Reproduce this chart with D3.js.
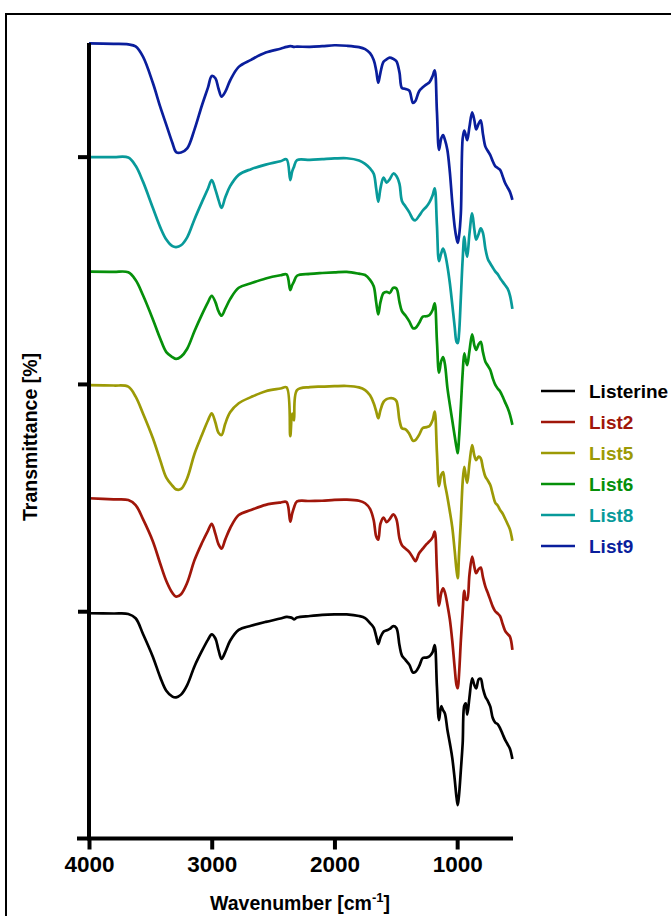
<!DOCTYPE html>
<html>
<head>
<meta charset="utf-8">
<script src="https://cdn.jsdelivr.net/npm/d3@7"></script>
<style>
  html, body { margin: 0; padding: 0; background: #fff; }
  svg { display: block; }
  text { font-family: "Liberation Sans", Arial, Helvetica, sans-serif; font-weight: bold; }
</style>
</head>
<body>
<svg id="chart" width="671" height="916"></svg>
<script>
// FTIR spectra (transmittance, %) on a shared wavenumber grid (cm-1)
const wavenumber = [
  4000, 3800, 3680, 3620, 3560, 3480, 3420, 3370, 3320, 3290,
  3250, 3200, 3140, 3080, 3030, 3000, 2970, 2945, 2920, 2890,
  2850, 2780, 2680, 2560, 2440, 2390, 2360, 2345, 2330, 2305,
  2200, 2100, 2000, 1900, 1800, 1750, 1710, 1680, 1660, 1643,
  1625, 1600, 1575, 1550, 1520, 1495, 1470, 1450, 1420, 1390,
  1360, 1340, 1310, 1280, 1250, 1225, 1200, 1183, 1165, 1148,
  1130, 1115, 1100, 1080, 1060, 1040, 1020, 1005, 995, 985,
  970, 955, 942, 930, 918, 900, 878, 860, 845, 825,
  808, 790, 770, 750, 730, 710, 690, 670, 650, 630,
  610, 590, 570, 550
];

const listerine = [
  99.1, 99.0, 98.8, 96.9, 90.0, 80.0, 71.0, 65.0, 62.4, 62.1,
  63.3, 67.5, 75.8, 82.5, 87.5, 89.8, 88.0, 83.0, 79.0, 82.0,
  87.0, 91.8, 93.6, 95.3, 96.8, 97.5, 97.3, 97.0, 96.4, 97.2,
  97.9, 98.4, 98.6, 98.6, 97.9, 97.0, 94.8, 92.8, 89.0, 85.6,
  88.5, 91.0, 91.6, 92.2, 93.4, 92.6, 85.0, 80.5, 78.5, 76.5,
  73.0, 73.3, 75.8, 79.4, 79.6, 80.2, 82.0, 85.1, 67.0, 52.1,
  58.2, 56.5, 55.0, 48.0, 42.0, 35.5, 26.0, 18.0, 14.7, 19.0,
  30.0, 42.0, 58.5, 59.5, 54.5, 62.0, 70.5, 67.5, 66.0, 70.0,
  70.3, 66.0, 62.4, 60.5, 58.0, 53.0, 51.0, 50.3, 48.5, 46.0,
  43.5, 41.5, 39.5, 35.0
];

const list2 = [
  99.7, 99.2, 98.9, 96.7, 90.5, 80.8, 71.0, 63.3, 58.0, 56.4,
  57.5, 62.5, 72.5, 80.0, 85.5, 88.4, 84.0, 79.5, 77.5, 81.5,
  86.5, 92.3, 94.5, 96.8, 97.8, 98.0, 89.4, 92.8, 95.5, 98.3,
  98.5, 98.6, 99.0, 99.1, 98.6, 97.5, 95.0, 90.0, 83.0, 81.5,
  88.5, 91.2, 89.2, 90.5, 92.6, 90.5, 82.0, 79.0, 77.5, 76.0,
  73.5, 72.0, 75.5, 77.5, 79.5, 80.8, 82.5, 85.0, 68.0, 52.5,
  58.0, 60.1, 58.3, 53.0, 46.5, 37.0, 25.0, 17.5, 16.1, 22.0,
  37.0, 50.0, 59.0, 55.5, 55.0, 66.0, 74.0, 69.5, 66.7, 68.5,
  69.2, 65.0, 60.8, 58.0, 55.0, 52.0, 50.0, 49.0, 47.8, 44.5,
  41.5, 40.0, 38.8, 33.0
];

const list5 = [
  99.5, 99.3, 98.8, 94.4, 87.0, 76.2, 66.5, 58.8, 55.2, 53.6,
  53.8, 58.5, 69.3, 77.5, 84.0, 87.1, 83.0, 78.5, 77.5, 82.5,
  87.5, 91.5, 94.2, 96.8, 98.0, 98.5, 77.0, 87.0, 84.0, 97.3,
  98.6, 98.8, 99.0, 99.1, 98.5, 97.3, 95.0, 91.5, 88.0, 84.9,
  88.5, 92.1, 93.3, 93.7, 93.6, 92.5, 84.0, 80.5, 80.0, 78.0,
  75.0, 75.3, 77.6, 80.6, 81.0, 81.5, 84.0, 87.8, 70.0, 55.0,
  60.0, 61.2, 56.0, 50.4, 44.0, 37.0, 26.5, 18.0, 14.5, 25.0,
  40.0, 57.0, 63.5, 59.5, 56.5, 65.0, 73.1, 68.5, 66.5, 68.0,
  67.3, 63.0, 59.2, 57.5, 55.5, 51.5, 47.8, 46.5, 44.5, 43.0,
  40.8, 38.5, 36.0, 31.0
];

const list6 = [
  99.4, 99.3, 99.1, 95.7, 89.0, 78.5, 70.0, 64.0, 61.8, 61.0,
  62.0, 65.5, 73.3, 80.5, 86.0, 88.8, 86.0, 82.0, 80.0, 83.0,
  87.3, 92.3, 94.3, 96.4, 97.8, 98.2, 91.3, 93.4, 95.0, 97.6,
  98.4, 98.8, 99.1, 99.3, 98.5, 97.9, 95.8, 93.0, 86.0, 80.6,
  86.0, 90.0, 90.5, 90.0, 92.3, 92.0, 86.0, 82.0, 80.0, 77.5,
  74.5, 74.6, 76.8, 79.6, 79.8, 80.3, 82.5, 85.5, 69.0, 55.0,
  60.0, 61.8, 58.8, 48.5, 41.0, 34.0, 27.0, 22.0, 19.5, 26.0,
  40.0, 55.0, 63.5, 60.5, 58.3, 64.5, 71.8, 67.0, 65.0, 67.5,
  68.5, 64.0, 59.8, 58.0, 56.1, 52.5, 49.7, 48.0, 46.7, 44.5,
  42.0, 39.6, 36.5, 32.0
];

const list8 = [
  99.8, 99.8, 99.6, 96.0, 89.0, 77.5, 69.0, 63.5, 60.6, 60.2,
  61.0, 64.5, 72.5, 80.0, 86.0, 89.7, 85.5, 81.0, 77.4, 82.0,
  87.0, 92.0, 94.5, 96.5, 98.0, 98.8, 89.7, 93.4, 95.5, 98.5,
  98.6, 98.9, 99.2, 99.3, 98.3, 96.8, 94.8, 92.5, 86.0, 80.2,
  86.0, 90.8, 88.6, 90.0, 92.6, 91.5, 88.0, 80.5, 78.0, 75.5,
  72.5, 72.0, 74.0, 76.3, 78.0, 80.0, 83.0, 86.1, 70.0, 54.0,
  57.5, 59.5, 57.5, 52.0, 44.5, 35.0, 25.0, 18.5, 18.0, 22.0,
  38.0, 55.0, 64.8, 59.0, 56.0, 66.0, 75.0, 68.0, 63.5, 66.0,
  68.5, 66.5, 59.5, 55.0, 53.0, 51.2, 49.5, 48.3, 46.5, 45.0,
  43.5, 42.0, 39.0, 33.0
];

const list9 = [
  99.8, 99.6, 99.4, 98.5, 94.0, 82.5, 72.0, 64.0, 56.0, 52.0,
  51.8, 53.6, 62.0, 72.5, 80.5, 85.5, 84.5, 80.0, 76.4, 78.5,
  83.5, 89.5, 92.6, 95.8, 97.5, 98.3, 98.6, 98.5, 98.3, 98.4,
  98.3, 98.6, 99.0, 98.8, 98.2, 97.3, 95.5, 92.5, 88.0, 82.5,
  87.0, 91.7, 92.8, 93.6, 93.0, 92.0, 87.0, 80.2, 79.8, 79.0,
  73.6, 74.5, 78.8, 80.5, 81.8, 82.8, 85.5, 88.0, 70.0, 53.0,
  58.0, 59.5, 57.5, 53.0, 43.4, 30.0, 19.0, 14.0, 12.1, 15.0,
  25.0, 58.0, 61.5, 59.5, 57.3, 63.0, 69.5, 66.0, 62.0, 64.5,
  66.0, 60.0, 54.4, 52.5, 50.7, 48.0, 45.8, 45.0, 44.2, 41.5,
  38.5, 36.5, 34.5, 31.0
];

const seriesNames = ["Listerine", "List2", "List5", "List6", "List8", "List9"];
const seriesValues = [listerine, list2, list5, list6, list8, list9];
// vertical stacking offset of each spectrum, in % units
const seriesOffsets = [0, 50, 100, 150, 200, 250];
const seriesColors = ["#000000", "#a0160a", "#9c9a06", "#06900a", "#089a9a", "#0a1e9c"];

const xTicks = [4000, 3000, 2000, 1000];
const yTicks = [100, 200, 300];

const svg = d3.select("#chart");
const x = d3.scaleLinear().domain([4000, 545]).range([89, 513]);
const y = d3.scaleLinear().domain([0, 350]).range([838.5, 43]);

// outer frame
svg.append("rect")
  .attr("x", 6).attr("y", 14)
  .attr("width", 700).attr("height", 960)
  .attr("fill", "none").attr("stroke", "#000").attr("stroke-width", 2);

// spectra
const line = d3.line()
  .x(d => x(d[0]))
  .y(d => y(d[1]))
  .curve(d3.curveCatmullRom.alpha(0.5));

seriesValues.forEach((vals, i) => {
  const pts = wavenumber.map((w, j) => [w, vals[j] + seriesOffsets[i]]);
  svg.append("path")
    .datum(pts)
    .attr("d", line)
    .attr("fill", "none")
    .attr("stroke", seriesColors[i])
    .attr("stroke-width", 2.7)
    .attr("stroke-linejoin", "round");
});

// x axis
const gx = svg.append("g")
  .attr("transform", `translate(0,${y(0)})`)
  .call(d3.axisBottom(x).tickValues(xTicks).tickSize(11).tickSizeOuter(0).tickPadding(7).tickFormat(d3.format("d")));
gx.select(".domain").remove();
gx.selectAll(".tick line").attr("stroke", "#000").attr("stroke-width", 4);
gx.selectAll(".tick text").attr("fill", "#000").attr("font-size", 22.5);
gx.append("line")
  .attr("x1", 77).attr("x2", x(545))
  .attr("y1", 0).attr("y2", 0)
  .attr("stroke", "#000").attr("stroke-width", 4);

// y axis (ticks only, no labels)
const gy = svg.append("g")
  .attr("transform", `translate(${x(4000)},0)`)
  .call(d3.axisLeft(y).tickValues(yTicks).tickSize(11).tickSizeOuter(0).tickFormat(""));
gy.select(".domain").remove();
gy.selectAll(".tick line").attr("stroke", "#000").attr("stroke-width", 4);
gy.append("line")
  .attr("x1", 0).attr("x2", 0)
  .attr("y1", y(350)).attr("y2", y(0) + 2)
  .attr("stroke", "#000").attr("stroke-width", 4);

// axis titles
const xt = svg.append("text")
  .attr("x", 300).attr("y", 910)
  .attr("text-anchor", "middle")
  .attr("font-size", 19.5)
  .attr("fill", "#000");
xt.append("tspan").text("Wavenumber [cm");
xt.append("tspan").attr("dy", -8).attr("font-size", 13).text("-1");
xt.append("tspan").attr("dy", 8).text("]");

svg.append("text")
  .attr("transform", "translate(37,437) rotate(-90)")
  .attr("text-anchor", "middle")
  .attr("font-size", 19.5)
  .attr("fill", "#000")
  .text("Transmittance [%]");

// legend
const legend = svg.append("g");
seriesNames.forEach((name, i) => {
  const ly = 391 + i * 31;
  legend.append("line")
    .attr("x1", 541).attr("x2", 575)
    .attr("y1", ly).attr("y2", ly)
    .attr("stroke", seriesColors[i]).attr("stroke-width", 2.6);
  legend.append("text")
    .attr("x", 589).attr("y", ly)
    .attr("dy", "0.36em")
    .attr("font-size", 19)
    .attr("fill", seriesColors[i])
    .text(name);
});
</script>
</body>
</html>
